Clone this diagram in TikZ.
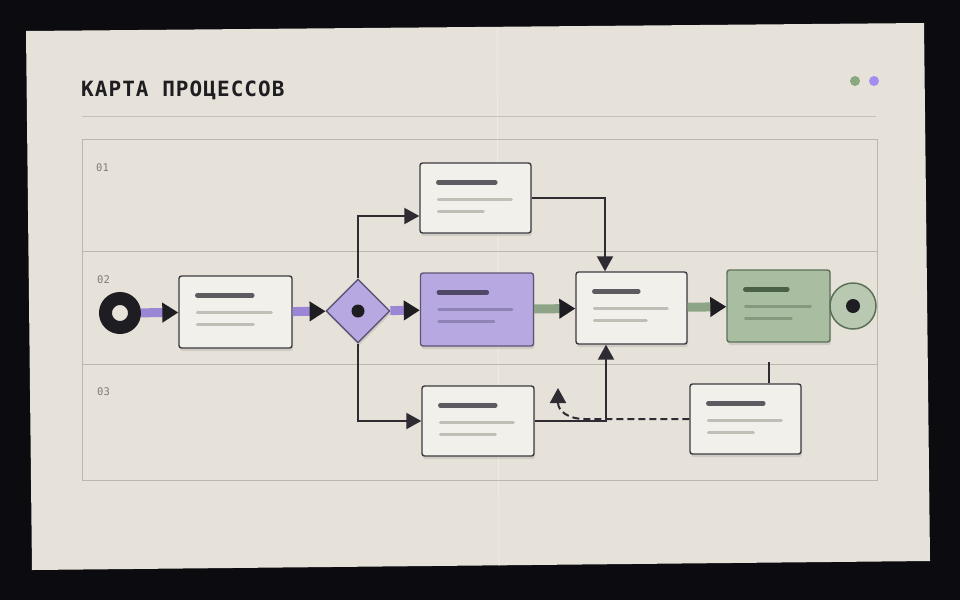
\documentclass[tikz,border=0pt]{standalone}
\usepackage{fontspec}
\newfontfamily\titlefont[LetterSpace=5]{DejaVu Sans Mono}
\newfontfamily\lanefont{DejaVu Sans Mono}
\usetikzlibrary{arrows.meta,shapes.geometric,shadows}

\definecolor{deskcol}{HTML}{0C0C10}
\definecolor{papercol}{HTML}{E7E2D9}
\definecolor{rulecol}{HTML}{C6C1B8}
\definecolor{lanecol}{HTML}{BDB8AF}
\definecolor{labelcol}{HTML}{7F7B75}
\definecolor{inkcol}{HTML}{1E1D22}
\definecolor{linecol}{HTML}{2E2B33}
\definecolor{edgecol}{HTML}{3B3A40}
\definecolor{cardcol}{HTML}{F2F0EA}
\definecolor{bardark}{HTML}{5D5B5F}
\definecolor{barlight}{HTML}{C1BEB6}
\definecolor{violetfill}{HTML}{B8A8E2}
\definecolor{violetedge}{HTML}{5E5478}
\definecolor{violetdark}{HTML}{4F4866}
\definecolor{violetlight}{HTML}{8F82B5}
\definecolor{violetband}{HTML}{9A86D4}
\definecolor{violetdot}{HTML}{A48CF0}
\definecolor{sagefill}{HTML}{A9BDA1}
\definecolor{sageedge}{HTML}{5C7058}
\definecolor{sagedark}{HTML}{4B6147}
\definecolor{sagelight}{HTML}{85997F}
\definecolor{sageband}{HTML}{8DA487}
\definecolor{sagedot}{HTML}{8AA880}
\definecolor{stopfill}{HTML}{B9C8B1}

% placeholder text lines inside a card
\newcommand{\cardlines}[6]{%
  \draw[line width=4.5pt,line cap=round,#2] ([shift={(19,20)}]#1.north west) -- ++(#4,0);
  \draw[line width=3pt,line cap=round,#3] ([shift={(19,37)}]#1.north west) -- ++(#5,0);
  \draw[line width=3pt,line cap=round,#3] ([shift={(19,49)}]#1.north west) -- ++(#6,0);
}

\begin{document}
\begin{tikzpicture}[x=1pt,y=-1pt,
  card/.style={draw=edgecol,line width=1.4pt,fill=cardcol,rounded corners=2.5pt,
    minimum width=113pt,minimum height=72pt,inner sep=0pt,
    drop shadow={shadow xshift=1pt,shadow yshift=-3pt,opacity=0.22}},
  gate/.style={diamond,draw=violetedge,fill=violetfill,line width=1.4pt,
    minimum size=64pt,inner sep=0pt,
    drop shadow={shadow xshift=1pt,shadow yshift=-3pt,opacity=0.22}},
  flow/.style={draw=linecol,line width=2pt,-{Triangle[length=15pt,width=16pt]}},
  band/.style={line width=9pt,-{Triangle[length=16pt,width=19pt,color=inkcol]}},
  lane/.style={font=\lanefont\fontsize{10.5}{12}\selectfont,text=labelcol,anchor=west,inner sep=0pt}]
\useasboundingbox (0,0) rectangle (960,600);
\fill[deskcol] (0,0) rectangle (960,600);
\fill[papercol] (26,31) -- (924,23) -- (930,561) -- (32,570) -- cycle;
\draw[white,opacity=0.35,line width=1pt] (497,28) -- (499,566);

% header
\node[anchor=base west,inner sep=0pt,text=inkcol,font=\titlefont\bfseries\fontsize{21}{24}\selectfont] (title) at (81,96) {КАРТА ПРОЦЕССОВ};
\draw[rulecol,line width=1pt] (82,116) -- (876,116);
\fill[sagedot] (855,81) circle (5);
\fill[violetdot] (874,81) circle (5);

% lanes
\draw[lanecol,line width=0.8pt] (82,139) rectangle (877,480);
\draw[lanecol,line width=0.8pt] (82,251) -- (877,251);
\draw[lanecol,line width=0.8pt] (82,364) -- (877,364);
\node[lane] (lane1) at (96,168) {01};
\node[lane] (lane2) at (97,280) {02};
\node[lane] (lane3) at (97,392) {03};

% nodes
\node[circle,draw=inkcol,fill=papercol,line width=13pt,minimum size=29pt,inner sep=0pt] (start) at (120,313) {};
\node[card] (prep) at (235.5,312) {};
\node[gate] (split) at (358,311) {};
\fill[inkcol] (split) circle (6.5);
\node[card,fill=violetfill,draw=violetedge,minimum height=73pt] (review) at (477,309.5) {};
\node[card,minimum width=111pt,minimum height=70pt] (upper) at (475.5,198) {};
\node[card,minimum width=112pt,minimum height=70pt] (lower) at (478,421) {};
\node[card,minimum width=111pt] (merge) at (631.5,308) {};
\node[card,fill=sagefill,draw=sageedge,minimum width=103pt] (finish) at (778.5,306) {};
\node[card,minimum width=111pt,minimum height=70pt] (extra) at (745.5,419) {};
\node[circle,draw=sageedge,fill=stopfill,line width=1.5pt,minimum size=46pt,inner sep=0pt] (stop) at (853,306) {};
\fill[inkcol] (stop) circle (7);

\cardlines{prep}{bardark}{barlight}{55}{74}{56}
\cardlines{review}{violetdark}{violetlight}{48}{73}{55}
\cardlines{upper}{bardark}{barlight}{57}{73}{45}
\cardlines{lower}{bardark}{barlight}{55}{73}{55}
\cardlines{merge}{bardark}{barlight}{44}{73}{52}
\cardlines{finish}{sagedark}{sagelight}{42}{65}{46}
\cardlines{extra}{bardark}{barlight}{55}{73}{45}

% main flow
\draw[band,violetband] (start) -- (prep);
\draw[band,violetband] (prep) -- (split);
\draw[band,violetband] (split) -- (review);
\draw[band,sageband] (review) -- (merge);
\draw[band,sageband] (merge) -- (finish);

% branches
\draw[flow] (split.north) |- ([yshift=-18pt]upper.west);
\draw[flow] (split.south) |- (lower.west);
\draw[flow] (upper.east) -| ([xshift=-26.5pt]merge.north);
\draw[flow] (lower.east) -| ([xshift=-25.5pt]merge.south);
\draw[flow,dash pattern=on 7pt off 4pt] (extra.west) -- (585,419) .. controls (568,419) and (558,411) .. (558,388);
\coordinate (tap) at (769,362);
\draw[linecol,line width=2pt] (tap) -- (tap |- extra.north);
\end{tikzpicture}
\end{document}
